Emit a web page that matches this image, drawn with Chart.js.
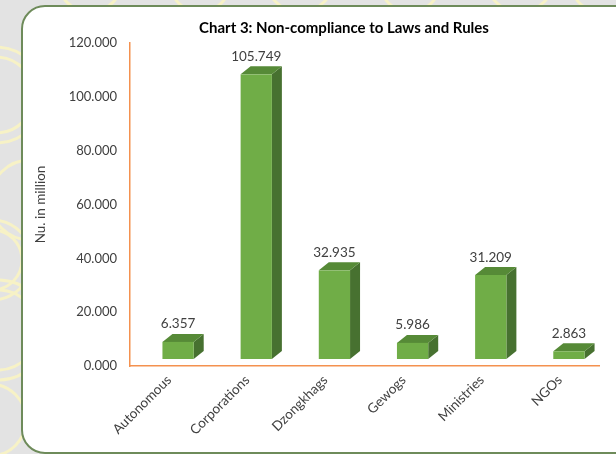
<!DOCTYPE html>
<html>
<head>
<meta charset="utf-8">
<script src="https://cdn.jsdelivr.net/npm/chart.js@4/dist/chart.umd.min.js"></script>
<style>
  html, body { margin: 0; padding: 0; }
  body { width: 616px; height: 454px; background: #e3e3e3; position: relative; overflow: hidden; }
  #bg { position: absolute; left: 0; top: 0; }
  #panel {
    position: absolute; left: 21px; top: 5px; width: 700px; height: 445px;
    background: #fff; border: 2px solid #6e8b5a; border-radius: 24px;
  }
  #wrap { position: absolute; left: 0; top: 0; width: 616px; height: 454px; }
</style>
</head>
<body>
<svg id="bg" width="616" height="454" fill="none" stroke="#f7f2c6" stroke-width="3">
  <circle cx="-4" cy="95" r="48"/><circle cx="-4" cy="95" r="38"/>
  <circle cx="-8" cy="260" r="40"/><circle cx="-8" cy="260" r="30"/>
  <circle cx="-2" cy="330" r="50"/><circle cx="-2" cy="330" r="40"/>
  <circle cx="30" cy="200" r="40"/><circle cx="-10" cy="420" r="36"/>
  <circle cx="90" cy="-20" r="32"/><circle cx="200" cy="-18" r="30"/>
  <circle cx="300" cy="-22" r="34"/><circle cx="410" cy="-18" r="30"/>
  <circle cx="520" cy="-22" r="34"/><circle cx="600" cy="-16" r="28"/>
</svg>
<div id="panel"></div>
<div id="wrap"><canvas id="chart"></canvas></div>
<script>
const categories = ['Autonomous', 'Corporations', 'Dzongkhags', 'Gewogs', 'Ministries', 'NGOs'];
const values = [6.357, 105.749, 32.935, 5.986, 31.209, 2.863];
const yTicks = [0, 20, 40, 60, 80, 100, 120];
const chartTitle = 'Chart 3: Non-compliance to Laws and Rules';

const FONT = 'Lato';
const TEXT = '#404040';

// fake 3D boxes like the Excel chart: shift the front face, add top and side faces
const SHIFT_X = 9, SHIFT_Y = -7, DEPTH_X = 10, DEPTH_Y = -8;

const boxes3d = {
    id: 'boxes3d',
    afterDatasetsDraw(chart) {
        const ctx = chart.ctx;
        const meta = chart.getDatasetMeta(0);
        ctx.save();
        meta.data.forEach((bar, i) => {
            const w = bar.width;
            const l = bar.x - w / 2 + SHIFT_X, r = l + w;
            const t = bar.y + SHIFT_Y, b = bar.base + SHIFT_Y;
            // side
            ctx.fillStyle = '#477130';
            ctx.beginPath();
            ctx.moveTo(r, t); ctx.lineTo(r + DEPTH_X, t + DEPTH_Y);
            ctx.lineTo(r + DEPTH_X, b + DEPTH_Y); ctx.lineTo(r, b);
            ctx.closePath(); ctx.fill();
            // top
            ctx.fillStyle = '#568a37';
            ctx.beginPath();
            ctx.moveTo(l, t); ctx.lineTo(l + DEPTH_X, t + DEPTH_Y);
            ctx.lineTo(r + DEPTH_X, t + DEPTH_Y); ctx.lineTo(r, t);
            ctx.closePath(); ctx.fill();
            // front
            ctx.fillStyle = '#70ad47';
            ctx.fillRect(l, t, w, b - t);
            // value label
            ctx.fillStyle = TEXT;
            ctx.font = '13.5px ' + FONT;
            ctx.textAlign = 'center';
            ctx.textBaseline = 'bottom';
            ctx.fillText(values[i].toFixed(3), (l + r) / 2, t + DEPTH_Y - 3);
        });
        ctx.restore();
    },
    afterDraw(chart) {
        const ctx = chart.ctx;
        ctx.save();
        ctx.fillStyle = '#000';
        ctx.font = 'bold 15px ' + FONT;
        ctx.textAlign = 'center';
        ctx.textBaseline = 'middle';
        ctx.fillText(chartTitle, 344, 28);
        ctx.restore();
    }
};

new Chart(document.getElementById('chart'), {
    type: 'bar',
    data: {
        labels: categories,
        datasets: [{
            data: values,
            backgroundColor: 'rgba(0,0,0,0)',
            categoryPercentage: 1,
            barPercentage: 0.4
        }]
    },
    options: {
        responsive: true,
        maintainAspectRatio: false,
        animation: false,
        events: [],
        layout: { padding: { left: 33, top: 43, right: 17, bottom: 0 } },
        plugins: {
            legend: { display: false },
            tooltip: { enabled: false }
        },
        scales: {
            x: {
                grid: { display: false, drawTicks: false },
                border: { color: '#f4914f', width: 1.5 },
                ticks: {
                    color: TEXT,
                    font: { size: 13.5, family: FONT },
                    minRotation: 45,
                    maxRotation: 45,
                    padding: 6
                },
                afterFit(s) { s.height = 88; }
            },
            y: {
                min: 0,
                max: 120,
                afterBuildTicks(s) { s.ticks = yTicks.map(v => ({ value: v })); },
                grid: { display: false, drawTicks: false },
                border: { color: '#f4914f', width: 1.5 },
                ticks: {
                    color: TEXT,
                    padding: 13,
                    font: { size: 13, family: FONT },
                    callback: v => v.toFixed(3)
                },
                title: {
                    display: true,
                    text: 'Nu. in million',
                    color: TEXT,
                    font: { size: 13.5, family: FONT },
                    padding: 0
                },
                afterFit(s) { s.width = 97; }
            }
        }
    },
    plugins: [boxes3d]
});
</script>
</body>
</html>
